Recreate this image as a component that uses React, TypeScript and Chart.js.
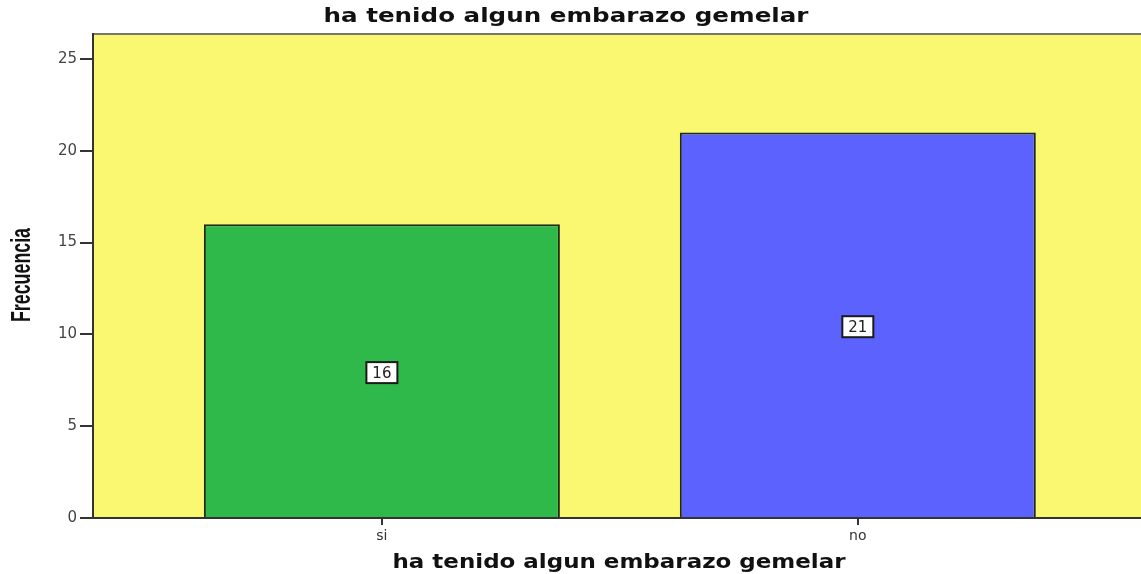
import React, { useEffect, useRef } from "react";
import { Chart, registerables } from "chart.js";

Chart.register(...registerables);

const categories = ["si", "no"];
const frequencies = [16, 21];
const barColors = ["#2FB94A", "#5B62FE"];
const yTicks = [0, 5, 10, 15, 20, 25];
const chartTitle = "ha tenido algun embarazo gemelar";
const xTitle = "ha tenido algun embarazo gemelar";
const yTitle = "Frecuencia";

const plotBackground = {
  id: "plotBackground",
  beforeDraw(chart: any) {
    const { ctx, chartArea: a } = chart;
    ctx.save();
    ctx.fillStyle = "#FAF871";
    ctx.fillRect(a.left, a.top, a.right - a.left, a.bottom - a.top);
    ctx.strokeStyle = "#77776a";
    ctx.lineWidth = 2;
    ctx.beginPath();
    ctx.moveTo(a.left, a.top);
    ctx.lineTo(a.right, a.top);
    ctx.stroke();
    ctx.restore();
  },
};

function drawStretched(
  ctx: CanvasRenderingContext2D,
  text: string,
  x: number,
  y: number,
  font: string,
  targetWidth: number,
  rotate: boolean
) {
  ctx.save();
  ctx.font = font;
  ctx.fillStyle = "#111";
  ctx.textAlign = "center";
  ctx.textBaseline = "middle";
  const w = ctx.measureText(text).width;
  ctx.translate(x, y);
  if (rotate) ctx.rotate(-Math.PI / 2);
  ctx.scale(targetWidth / w, 1);
  ctx.fillText(text, 0, 0);
  ctx.restore();
}

const titles = {
  id: "titles",
  afterDraw(chart: any) {
    const { ctx, chartArea: a } = chart;
    drawStretched(ctx, chartTitle, 566, 17, "bold 20px 'DejaVu Sans', sans-serif", 485, false);
    drawStretched(ctx, xTitle, (a.left + a.right) / 2 + 2, 563, "bold 19px 'DejaVu Sans', sans-serif", 453, false);
    drawStretched(ctx, yTitle, 23, (a.top + a.bottom) / 2 - 1, "bold 27px 'Liberation Sans', sans-serif", 94, true);
  },
};

const valueLabels = {
  id: "valueLabels",
  afterDatasetsDraw(chart: any) {
    const { ctx } = chart;
    const meta = chart.getDatasetMeta(0);
    ctx.save();
    ctx.font = "15px 'DejaVu Sans', sans-serif";
    ctx.textAlign = "center";
    ctx.textBaseline = "middle";
    meta.data.forEach((bar: any, i: number) => {
      const text = String(frequencies[i]);
      const cx = bar.x;
      const cy = (bar.y + bar.base) / 2 + 2;
      const w = 31;
      const h = 21;
      ctx.fillStyle = "#ffffff";
      ctx.fillRect(cx - w / 2, cy - h / 2, w, h);
      ctx.strokeStyle = "#1a1a1a";
      ctx.lineWidth = 2;
      ctx.strokeRect(cx - w / 2, cy - h / 2, w, h);
      ctx.fillStyle = "#222";
      ctx.fillText(text, cx, cy + 1);
    });
    ctx.restore();
  },
};

export default function App() {
  const ref = useRef<HTMLCanvasElement>(null);
  useEffect(() => {
    document.body.style.margin = "0";
    const chart = new Chart(ref.current as HTMLCanvasElement, {
      type: "bar",
      data: {
        datasets: [
          {
            data: categories.map((c, i) => ({ x: i, y: frequencies[i] })),
            backgroundColor: barColors,
            borderColor: "#1f2a1f",
            borderWidth: 2,
            categoryPercentage: 1,
            barPercentage: 0.748,
          } as any,
        ],
      },
      options: {
        animation: false,
        responsive: false,
        layout: { padding: { left: 0, right: 0, top: 34, bottom: 0 } },
        plugins: {
          legend: { display: false },
          tooltip: { enabled: false },
          title: { display: false },
        },
        scales: {
          x: {
            type: "linear",
            min: -0.607,
            max: 1.595,
            offset: false,
            afterFit(scale: any) {
              scale.height = 56;
            },
            ticks: {
              stepSize: 1,
              includeBounds: false,
              color: "#333",
              font: { family: "'DejaVu Sans', sans-serif", size: 14 },
              padding: 3,
              callback: (v: any) => categories[v as number] ?? "",
            } as any,
            grid: {
              offset: false,
              drawOnChartArea: false,
              drawTicks: true,
              tickLength: 7,
              color: "#333",
              lineWidth: 2,
            },
            border: { display: true, color: "#333", width: 2 },
            title: { display: false },
          },
          y: {
            min: 0,
            max: 26.36,
            afterFit(scale: any) {
              scale.width = 93;
            },
            ticks: {
              stepSize: 5,
              includeBounds: false,
              color: "#444",
              font: { family: "'DejaVu Sans', sans-serif", size: 15 },
              padding: 3,
              callback: (v: any) => (yTicks.includes(v) ? String(v) : ""),
            } as any,
            grid: {
              drawOnChartArea: false,
              drawTicks: true,
              tickLength: 13,
              color: "#333",
              lineWidth: 2,
            },
            border: { display: true, color: "#333", width: 2 },
            title: { display: false },
          },
        },
      },
      plugins: [plotBackground, valueLabels, titles],
    });
    return () => chart.destroy();
  }, []);
  return <canvas ref={ref} width={1141} height={574} />;
}
